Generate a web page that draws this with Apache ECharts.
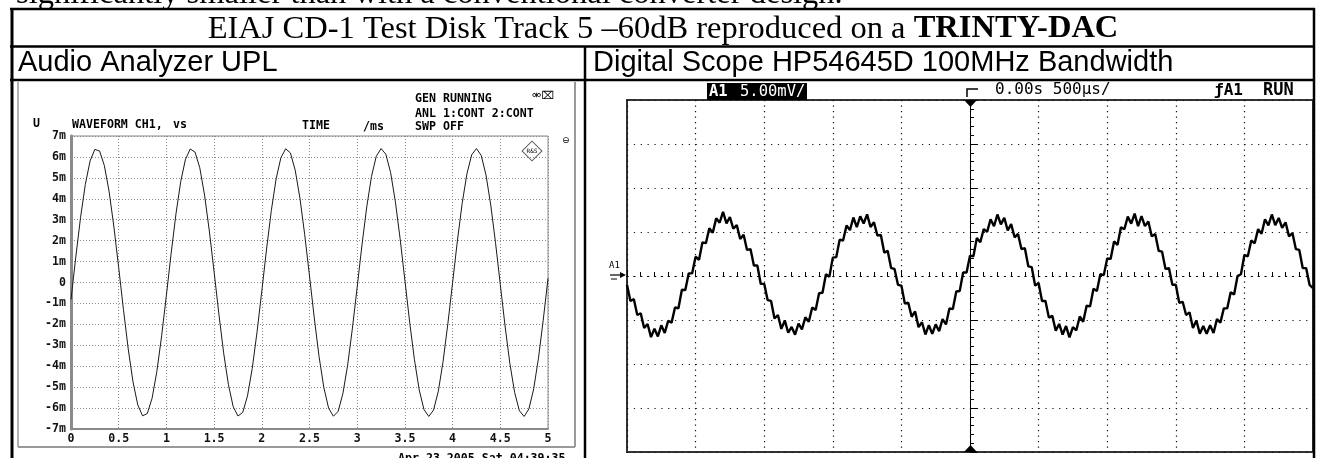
<!DOCTYPE html>
<html><head><meta charset="utf-8">
<script src="https://cdn.jsdelivr.net/npm/echarts@6/dist/echarts.min.js"></script>
<style>html,body{margin:0;padding:0;background:#fff;}#c{width:1317px;height:458px;}</style>
</head><body><div id="c"></div>
<script>
// ---- data ----
// Audio Analyzer UPL: time (ms) and voltage (mV), one point every 0.05 ms
const uplTimeStart = 0, uplTimeStep = 0.05;
const uplValues = [-0.81,1.21,3.10,4.68,5.81,6.36,6.28,5.58,4.33,2.65,0.71,-1.30,-3.18,-4.75,-5.85,-6.37,-6.26,-5.53,-4.25,-2.55,
 -0.61,1.40,3.27,4.82,5.89,6.38,6.23,5.48,4.18,2.46,0.51,-1.50,-3.36,-4.88,-5.93,-6.38,-6.21,-5.42,-4.10,-2.37,
 -0.41,1.60,3.44,4.95,5.96,6.39,6.19,5.37,4.02,2.28,0.31,-1.69,-3.53,-5.01,-6.00,-6.39,-6.16,-5.31,-3.94,-2.18,
 -0.21,1.79,3.61,5.07,6.03,6.40,6.13,5.26,3.86,2.09,0.10,-1.89,-3.69,-5.13,-6.07,-6.40,-6.10,-5.20,-3.78,-1.98,
 0.00,1.98,3.77,5.19,6.10,6.40,6.07,5.14,3.70,1.90,-0.10,-2.08,-3.86,-5.25,-6.13,-6.40,-6.04,-5.08,-3.62,-1.80,0.20];
const uplXTicks = [0,0.5,1,1.5,2,2.5,3,3.5,4,4.5,5];
const uplYTicks = ['-7m','-6m','-5m','-4m','-3m','-2m','-1m','0','1m','2m','3m','4m','5m','6m','7m'];

// Digital scope HP54645D: time (ms, centre = 0) and voltage (mV), one point every 0.025 ms (noisy trace)
const scopeTimeStart = -2.5, scopeTimeStep = 0.025;
const scopeValues = [
 -0.99,-2.84,-2.63,-4.43,-4.23,-5.91,-5.45,-6.95,-5.99,-6.87,-5.60,-6.47,-5.10,-5.30,-3.58,-3.66,-1.56,-1.60,0.30,0.30,
 2.19,1.84,3.83,3.73,5.43,4.91,6.55,6.05,7.29,5.97,6.70,5.37,5.80,4.20,4.68,2.96,3.06,1.20,1.20,-0.90,
 -0.89,-2.74,-2.83,-4.83,-4.43,-6.01,-5.05,-6.45,-5.79,-6.67,-5.40,-6.07,-4.70,-5.20,-3.58,-3.86,-1.96,-1.90,0.20,-0.10,
 2.09,2.14,4.13,4.03,5.73,5.21,6.65,5.55,6.79,5.97,7.00,5.57,6.10,4.60,4.68,2.66,2.86,0.90,0.80,-1.00,
 -1.09,-3.14,-3.03,-4.63,-4.03,-5.81,-5.25,-6.65,-5.59,-6.57,-5.50,-6.27,-4.90,-5.50,-3.68,-3.76,-1.76,-1.70,0.40,0.40,
 2.29,2.24,4.33,3.83,5.33,5.01,6.45,5.65,6.99,5.87,6.60,5.17,5.90,4.40,4.78,3.06,3.16,1.10,1.00,-1.10,
 -0.79,-2.84,-2.83,-4.73,-4.53,-6.21,-5.45,-6.65,-5.69,-6.97,-5.80,-6.17,-4.60,-5.20,-3.38,-3.46,-1.46,-1.70,0.20,0.10,
 1.99,1.94,3.93,3.53,5.53,5.31,6.75,5.95,7.09,5.67,6.80,5.67,6.20,4.50,4.78,2.86,2.76,0.80,0.90,-1.00,
 -0.99,-3.04,-2.93,-4.43,-4.13,-5.91,-5.05,-6.55,-5.69,-6.57,-5.60,-6.47,-4.90,-5.30,-3.68,-3.66,-1.86,-2.10,0.00,0.20,
 2.39,2.24,4.03,3.73,5.33,4.81,6.45,5.75,6.99,5.77,6.60,5.47,6.10,4.50,4.88,3.06,2.96,0.90,0.90,-1.00,-1.39];

// texts
const pageLine = 'significantly smaller than with a conventional converter design.';
const tableTitle = 'EIAJ CD-1 Test Disk Track 5 \u201360dB reproduced on a ';
const tableTitleBold = 'TRINTY-DAC';
const leftHead = 'Audio Analyzer UPL';
const rightHead = 'Digital Scope HP54645D 100MHz Bandwidth';
const uplTexts = ['WAVEFORM CH1,', 'vs', 'TIME', '/ms', 'GEN RUNNING', 'ANL 1:CONT 2:CONT', 'SWP OFF', 'Apr 23 2005 Sat 04:39:35'];
const scopeTexts = ['A1', '5.00mV/', '0.00s 500\u00b5s/', '\u0192A1', 'RUN'];

// ---- build ----
const uplData = uplValues.map((v, i) => [+(uplTimeStart + i * uplTimeStep).toFixed(3), v]);
const scopeData = scopeValues.map((v, i) => [+(scopeTimeStart + i * scopeTimeStep).toFixed(4), v]);

const MONO = '"DejaVu Sans Mono", "Liberation Mono", monospace';
const uplFont = 'bold 11.6px ' + MONO;
const scopeFont = '15.5px ' + MONO;
const SERIF = '"Liberation Serif", "Times New Roman", serif';
const SANS = '"Liberation Sans", Arial, sans-serif';

function txt(x, y, text, font, extra) {
  return Object.assign({ type: 'text', x: x, y: y, silent: true,
    style: Object.assign({ text: text, font: font, fill: '#000', align: 'left', verticalAlign: 'middle' }, extra || {}) });
}
function ln(x1, y1, x2, y2, w, c) {
  return { type: 'line', silent: true, shape: { x1: x1, y1: y1, x2: x2, y2: y2 }, style: { stroke: c || '#000', lineWidth: w } };
}

const chart = echarts.init(document.getElementById('c'), null, { renderer: 'canvas' });

const graphics = [
  txt(16, -6, pageLine, '32.5px ' + SERIF),
  ln(10, 9, 1315, 9, 2.5),
  ln(10, 46.5, 1315, 46.5, 2.5),
  ln(10, 80, 1315, 80, 2.5),
  ln(12, 8, 12, 458, 3),
  ln(1314, 8, 1314, 458, 2.5),
  ln(585, 46, 585, 458, 2.5),
  { type: 'text', x: 663, y: 29, silent: true, style: { text: '{n|' + tableTitle + '}{b|' + tableTitleBold + '}', align: 'center', verticalAlign: 'middle', fill: '#000',
      rich: { n: { font: '32.5px ' + SERIF, fill: '#000' }, b: { font: 'bold 32.5px ' + SERIF, fill: '#000' } } } },
  txt(18, 62.5, leftHead, '29px ' + SANS),
  txt(593, 62.5, rightHead, '29px ' + SANS),
  ln(18, 82, 18, 447, 1.5, '#999'),
  ln(18, 447, 575, 447, 2, '#999'),
  ln(575, 82, 575, 447, 2, '#999'),
  txt(33, 124, 'U', uplFont),
  txt(72, 125, uplTexts[0], uplFont),
  txt(173, 125, uplTexts[1], uplFont),
  txt(302, 126, uplTexts[2], uplFont),
  txt(363, 127, uplTexts[3], uplFont),
  txt(415, 98.5, uplTexts[4], uplFont),
  txt(415, 113.5, uplTexts[5], uplFont),
  txt(415, 126.5, uplTexts[6], uplFont),
  txt(532, 96, '\u26AE\u2327', '11px "DejaVu Sans"'),
  txt(562, 141, '\u2296', '9px "DejaVu Sans"'),
  { type: 'rect', x: 532, y: 151, rotation: Math.PI / 4, silent: true, shape: { x: -7, y: -7, width: 14, height: 14 }, style: { fill: '#fff', stroke: '#555', lineWidth: 1 } },
  txt(532, 151, 'R&S', '6px ' + MONO, { align: 'center' }),
  txt(398, 459, uplTexts[7], uplFont),
  { type: 'rect', silent: true, shape: { x: 707, y: 83, width: 100, height: 17 }, style: { fill: '#000' } },
  txt(709, 92, scopeTexts[0], 'bold 15.5px ' + MONO, { fill: '#fff' }),
  txt(740, 92, scopeTexts[1], scopeFont, { fill: '#fff' }),
  txt(995, 90, scopeTexts[2], '16px ' + MONO),
  txt(1214, 91, scopeTexts[3], 'bold 16px ' + MONO),
  txt(1263, 91, scopeTexts[4], 'bold 17px ' + MONO),
  { type: 'polyline', silent: true, shape: { points: [[967, 97], [967, 89], [978, 89]] }, style: { stroke: '#000', lineWidth: 1.5, fill: null } },
  { type: 'polygon', silent: true, shape: { points: [[964, 100], [977, 100], [970.5, 107]] }, style: { fill: '#000' } },
  { type: 'polygon', silent: true, shape: { points: [[964, 452], [977, 452], [970.5, 445]] }, style: { fill: '#000' } },
  txt(609, 266, scopeTexts[0], '9px ' + MONO),
  ln(610, 275, 624, 275, 1.2),
  { type: 'polygon', silent: true, shape: { points: [[620, 272], [626, 275], [620, 278]] }, style: { fill: '#000' } },
  ln(611, 279, 617, 279, 1)
];

const option = {
  animation: false,
  backgroundColor: '#fff',
  graphic: { elements: graphics },
  grid: [
    { left: 71, top: 136, width: 477, height: 293, show: true, borderColor: '#8a8a8a', borderWidth: 1, backgroundColor: 'transparent' },
    { left: 627, top: 100, width: 686, height: 352, show: true, borderColor: '#333', borderWidth: 2, backgroundColor: 'transparent' }
  ],
  xAxis: [
    { gridIndex: 0, type: 'value', min: 0, max: 5, interval: 0.5,
      axisLine: { show: true, onZero: false, lineStyle: { color: '#8a8a8a', width: 2 } },
      axisTick: { show: false },
      axisLabel: { margin: 4, color: '#111', fontFamily: MONO, fontSize: 11.6, fontWeight: 'bold',
        formatter: v => uplXTicks.indexOf(v) >= 0 ? String(v) : '' },
      splitLine: { show: true, lineStyle: { color: '#8a8a8a', width: 1, type: [1, 2] } } },
    { gridIndex: 1, type: 'value', min: -2.5, max: 2.5, interval: 0.5,
      axisLine: { show: true, onZero: true, onZeroAxisIndex: 1, lineStyle: { color: '#000', width: 1.2, type: [1.2, 5.66] } },
      axisTick: { show: true, inside: true, length: 6, lineStyle: { color: '#000', width: 1 } },
      minorTick: { show: true, splitNumber: 5, length: 4, lineStyle: { color: '#000', width: 1 } },
      axisLabel: { show: false },
      splitLine: { show: true, lineStyle: { color: '#111', width: 1.2, type: [1.2, 4.3] } } },
    { gridIndex: 1, type: 'value', min: -2.5, max: 2.5, interval: 0.5,
      axisLine: { show: false, onZero: true, onZeroAxisIndex: 2 },
      axisTick: { show: true, inside: false, length: 6, lineStyle: { color: '#000', width: 1 } },
      minorTick: { show: true, splitNumber: 5, length: 4, lineStyle: { color: '#000', width: 1 } },
      axisLabel: { show: false }, splitLine: { show: false } }
  ],
  yAxis: [
    { gridIndex: 0, type: 'value', min: -7, max: 7, interval: 1,
      axisLine: { show: true, onZero: false, lineStyle: { color: '#8a8a8a', width: 3 } },
      axisTick: { show: false },
      axisLabel: { margin: 5, color: '#111', fontFamily: MONO, fontSize: 11.6, fontWeight: 'bold',
        formatter: v => uplYTicks[Math.round(v) + 7] },
      splitLine: { show: true, lineStyle: { color: '#8a8a8a', width: 1, type: [1, 2] } } },
    { gridIndex: 1, type: 'value', min: -20, max: 20, interval: 5,
      axisLine: { show: true, onZero: true, onZeroAxisIndex: 1, lineStyle: { color: '#000', width: 1 } },
      axisTick: { show: true, inside: true, length: 7, lineStyle: { color: '#000', width: 1 } },
      minorTick: { show: true, splitNumber: 5, length: 4, lineStyle: { color: '#000', width: 1 } },
      axisLabel: { show: false },
      splitLine: { show: true, lineStyle: { color: '#111', width: 1.2, type: [1.2, 5.66] } } },
    { gridIndex: 1, type: 'value', min: -20, max: 20, interval: 5,
      axisLine: { show: false, onZero: true, onZeroAxisIndex: 2 },
      axisTick: { show: true, inside: false, length: 7, lineStyle: { color: '#000', width: 1 } },
      minorTick: { show: true, splitNumber: 5, length: 4, lineStyle: { color: '#000', width: 1 } },
      axisLabel: { show: false }, splitLine: { show: false } }
  ],
  series: [
    { type: 'line', xAxisIndex: 0, yAxisIndex: 0, data: uplData, showSymbol: false, symbol: 'none',
      lineStyle: { color: '#1a1a1a', width: 1 }, silent: true },
    { type: 'line', xAxisIndex: 1, yAxisIndex: 1, data: scopeData, showSymbol: false, symbol: 'none',
      lineStyle: { color: '#000', width: 2.4 }, silent: true }
  ]
};
chart.setOption(option);
</script></body></html>
